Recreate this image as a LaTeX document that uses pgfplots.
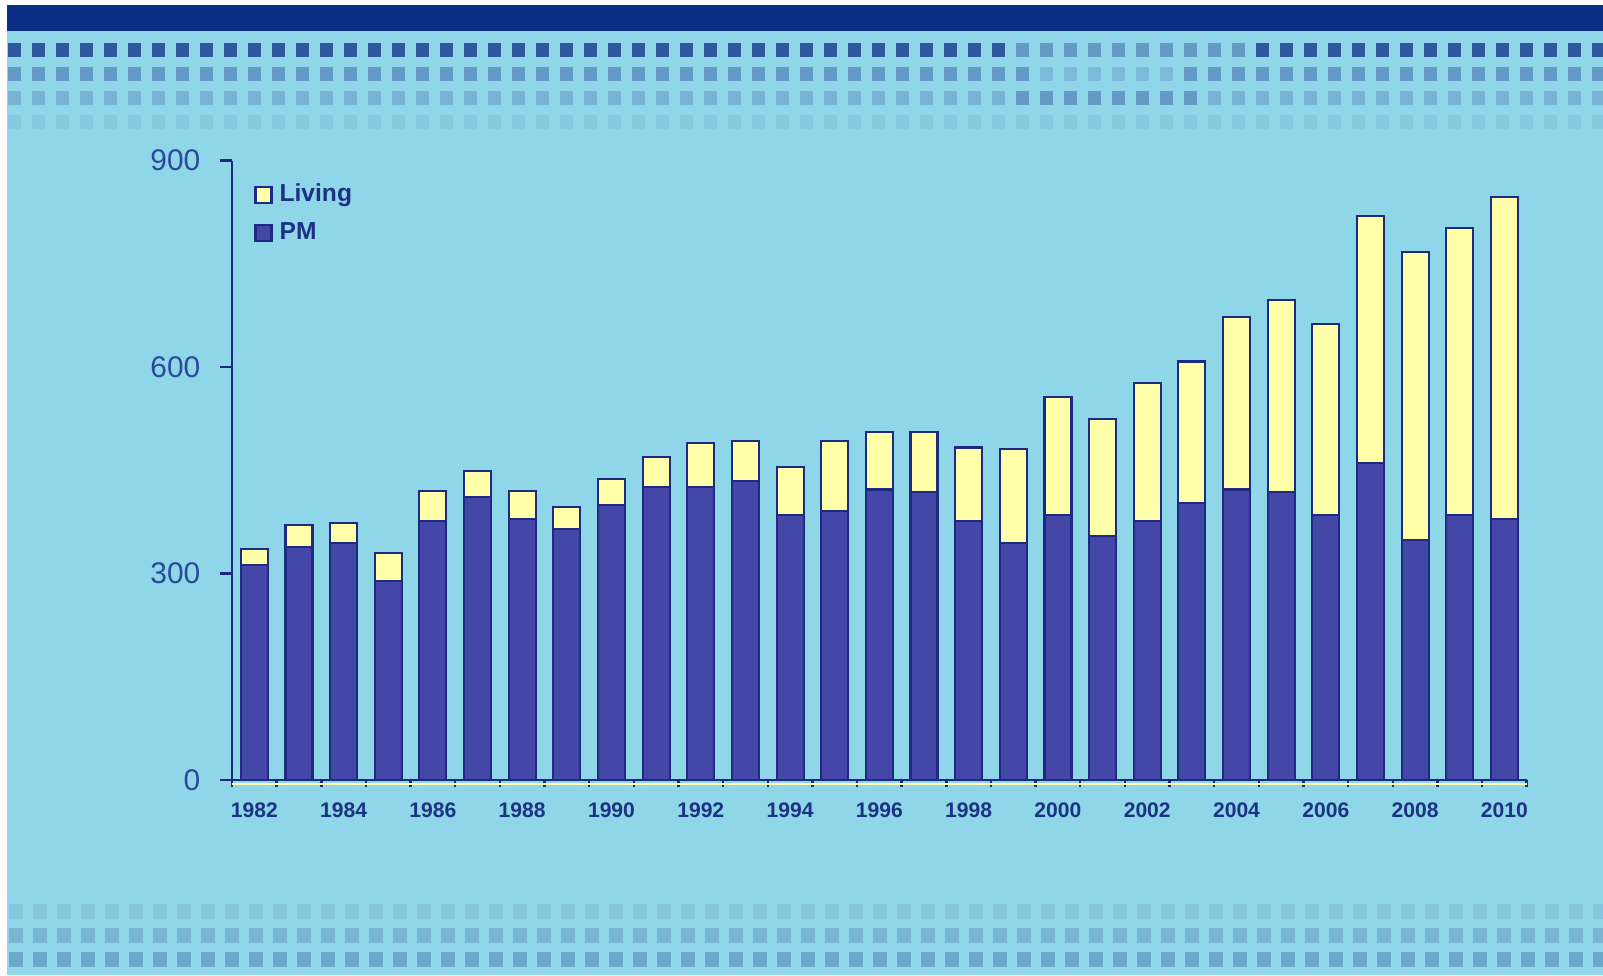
\documentclass[border=0pt]{standalone}
\usepackage{fontspec}
\setmainfont{Liberation Sans}
\usepackage{pgfplots}
\usepackage{pgfplotstable}
\pgfplotsset{compat=1.18}

\definecolor{bgc}{HTML}{8ED6E8}
\definecolor{bandc}{HTML}{0B2F86}
\definecolor{sqA}{HTML}{2F579D}
\definecolor{sqB}{HTML}{6399C4}
\definecolor{sqC}{HTML}{7CBAD8}
\definecolor{sqCc}{HTML}{79B2D2}
\definecolor{sqD}{HTML}{86C9E1}
\definecolor{btA}{HTML}{86C6DF}
\definecolor{btB}{HTML}{7AB5D4}
\definecolor{btC}{HTML}{6DA7CB}
\definecolor{pmc}{HTML}{4446A8}
\definecolor{livc}{HTML}{FFFFAA}
\definecolor{edgec}{HTML}{1E2A80}
\definecolor{navyc}{HTML}{1C3283}
\definecolor{ytickc}{HTML}{2B4A9A}

\pgfplotsset{sqlegend/.style={legend image code/.code={\draw[##1] (0cm,-0.08cm) rectangle (0.16cm,0.08cm);}}}

% year index, PM, Living (stacked on PM)
\pgfplotstableread{
idx year pm living
0  1982 313 23
1  1983 339 31
2  1984 344 29
3  1985 289 41
4  1986 376 44
5  1987 411 38
6  1988 379 41
7  1989 365 32
8  1990 399 38
9  1991 426 43
10 1992 426 64
11 1993 434 58
12 1994 385 70
13 1995 391 101
14 1996 422 83
15 1997 419 87
16 1998 376 107
17 1999 344 137
18 2000 385 172
19 2001 355 169
20 2002 376 201
21 2003 402 206
22 2004 422 251
23 2005 419 278
24 2006 385 277
25 2007 460 360
26 2008 349 418
27 2009 385 417
28 2010 379 468
}\datatable

\begin{document}
\begin{tikzpicture}
% page and background
\fill[white] (0,0) rectangle (16.03,9.75);
\fill[bgc] (0.07,0) rectangle (16.03,9.70);
\fill[bandc] (0.07,9.44) rectangle (16.03,9.70);

\begin{scope}
\clip (0.07,0) rectangle (16.03,9.70);
% decorative squares, top
\foreach \i in {0,...,41,52,53,...,66}
  \fill[sqA] ({0.077+0.24*\i},9.177) rectangle ++(0.134,0.14);
\foreach \i in {42,...,51}
  \fill[sqB] ({0.077+0.24*\i},9.177) rectangle ++(0.134,0.14);
\foreach \i in {0,...,42,49,50,...,66}
  \fill[sqB] ({0.077+0.24*\i},8.94) rectangle ++(0.134,0.14);
\foreach \i in {43,...,48}
  \fill[sqC] ({0.077+0.24*\i},8.94) rectangle ++(0.134,0.14);
\foreach \i in {0,...,41,50,51,...,66}
  \fill[sqCc] ({0.077+0.24*\i},8.695) rectangle ++(0.134,0.14);
\foreach \i in {42,...,49}
  \fill[sqB] ({0.077+0.24*\i},8.695) rectangle ++(0.134,0.14);
\foreach \i in {0,...,66}
  \fill[sqD] ({0.077+0.24*\i},8.457) rectangle ++(0.134,0.14);

% decorative squares, bottom
\foreach \i in {0,...,66}{
  \fill[btA] ({0.092+0.24*\i},0.562) rectangle ++(0.138,0.145);
  \fill[btB] ({0.092+0.24*\i},0.322) rectangle ++(0.138,0.145);
  \fill[btC] ({0.092+0.24*\i},0.082) rectangle ++(0.138,0.145);
}
\end{scope}

\begin{axis}[
    at={(2.32cm,1.95cm)}, anchor=south west,
    scale only axis,
    width=12.947cm, height=6.195cm,
    xmin=-0.5, xmax=28.5,
    ymin=0, ymax=900,
    ybar stacked,
    bar width=0.27cm,
    axis lines=left,
    axis line style={-, draw=edgec, line width=0.7pt},
    clip=false,
    tick align=outside,
    major tick length=0.12cm,
    minor tick length=0.07cm,
    tick style={draw=edgec, line width=0.7pt},
    every major x tick/.append style={draw=none},
    xtick={0,2,...,28},
    xticklabels={1982,1984,1986,1988,1990,1992,1994,1996,1998,2000,2002,2004,2006,2008,2010},
    minor xtick={-0.5,0.5,...,28.5},
    ytick={0,300,600,900},
    yticklabels={0,300,600,900},
    /pgf/number format/assume math mode=true,
    xticklabel style={font=\bfseries\fontsize{6}{7}\selectfont, text=navyc, inner sep=0pt, yshift=-0.1cm},
    yticklabel style={font=\fontsize{8.5}{10}\selectfont, text=ytickc, inner sep=0pt, xshift=-0.19cm},
    legend style={at={(0.0168,0.975)}, anchor=north west, draw=none, fill=none,
        inner sep=0pt, row sep=0.01cm,
        font=\bfseries\fontsize{7}{8}\selectfont, text=navyc,
        nodes={text height=0.18cm, text depth=0.05cm}},
    legend cell align=left,
    reverse legend,
]
\addplot[fill=pmc, draw=edgec, line width=0.6pt, sqlegend]
    table[x=idx, y=pm] {\datatable};
\addlegendentry{PM}
\addplot[fill=livc, draw=edgec, line width=0.6pt, sqlegend]
    table[x=idx, y=living] {\datatable};
\addlegendentry{Living}
% thin yellow line under the x axis
\draw[livc, line width=0.6pt, yshift=-1.1pt] (rel axis cs:0,0) -- (rel axis cs:1,0);
\end{axis}
\end{tikzpicture}
\end{document}
